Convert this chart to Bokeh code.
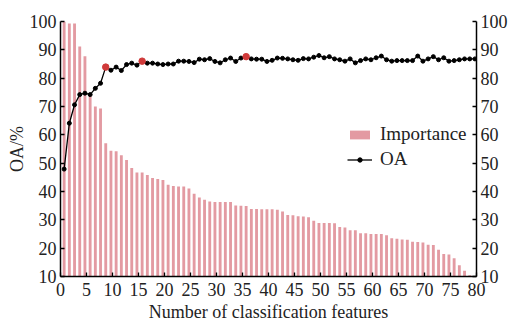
import numpy as np
from bokeh.plotting import figure
from bokeh.models import Range1d, LinearAxis, Legend, LegendItem, FixedTicker, Label, ColumnDataSource
from bokeh.embed import file_html
from bokeh.resources import INLINE

# ---- data ----
features = list(range(1, 81))
importance = [100.0, 99.3, 99.3, 91.2, 87.7, 74.0, 70.0, 69.3, 57.0, 54.4,
              54.2, 52.8, 51.1, 48.3, 46.7, 46.7, 45.8, 44.8, 44.4, 44.1,
              42.4, 41.9, 41.8, 41.8, 41.1, 39.2, 37.9, 37.1, 36.5, 36.3,
              36.3, 36.3, 36.3, 35.1, 35.0, 34.9, 33.8, 33.8, 33.7, 33.7,
              33.7, 33.6, 32.9, 31.7, 31.6, 31.3, 31.2, 30.9, 29.7, 28.9,
              28.9, 28.9, 28.8, 27.5, 27.3, 26.3, 26.3, 25.3, 25.3, 25.0,
              25.0, 25.0, 24.6, 23.5, 23.3, 23.1, 23.0, 22.3, 22.2, 22.0,
              21.2, 21.1, 19.4, 17.9, 17.8, 16.4, 14.0, 12.0, 10.4, 10.0]
oa = [47.9, 64.1, 70.6, 74.2, 74.7, 74.2, 76.4, 78.2, 83.9, 82.8,
      83.9, 82.7, 84.8, 85.3, 84.6, 86.0, 85.3, 85.3, 85.0, 84.8,
      85.0, 85.0, 86.0, 86.0, 85.9, 85.5, 86.7, 86.5, 86.9, 85.9,
      85.4, 86.5, 87.1, 85.9, 87.1, 87.6, 86.8, 86.7, 86.7, 85.9,
      86.3, 87.1, 87.0, 86.8, 86.5, 86.3, 86.9, 86.8, 87.4, 88.0,
      87.2, 87.6, 86.8, 86.5, 86.0, 86.8, 85.4, 86.2, 86.8, 86.5,
      87.2, 87.8, 86.5, 86.0, 86.2, 86.2, 86.2, 86.2, 87.8, 86.0,
      86.8, 87.6, 86.5, 87.2, 86.0, 86.2, 86.5, 86.8, 86.8, 86.8]
highlight = [9, 16, 36]
x_ticks = list(range(0, 81, 5))
y_ticks = list(range(10, 101, 10))

FONT = "'Liberation Serif', serif"
FS = "18px"

xpos = [f - 0.3 for f in features]
src = ColumnDataSource(dict(x=xpos, imp=importance, oa=oa))
hl_x = [f - 0.3 for f in highlight]
hl_y = [oa[f - 1] for f in highlight]

p = figure(width=528, height=325, x_range=Range1d(0, 80), y_range=Range1d(10, 100),
           output_backend="svg", toolbar_location=None,
           min_border_left=60, min_border_right=52, min_border_top=21, min_border_bottom=49)
p.extra_y_ranges = {"imp": Range1d(10, 100)}
p.grid.visible = False
p.outline_line_color = None
p.background_fill_color = "white"

bars = p.vbar(x="x", top="imp", bottom=10, width=0.55, source=src, y_range_name="imp",
              fill_color="#e39aa2", line_color=None)
line = p.line(x="x", y="oa", source=src, line_color="black", line_width=1.3)
pts = p.scatter(x="x", y="oa", source=src, size=4, color="black")
p.scatter(x=hl_x, y=hl_y, size=6.5, color="#d03a3a")

right = LinearAxis(y_range_name="imp")
p.add_layout(right, "right")

for ax in [p.xaxis[0], p.yaxis[0], right]:
    ax.axis_line_width = 1.5
    ax.axis_line_color = "black"
    ax.major_tick_in = 4
    ax.major_tick_out = 0
    ax.major_tick_line_width = 1.3
    ax.minor_tick_line_color = None
    ax.major_label_text_font = FONT
    ax.major_label_text_font_size = FS
    ax.major_label_text_color = "#222222"
    ax.axis_label_text_font = FONT
    ax.axis_label_text_font_size = FS
    ax.axis_label_text_font_style = "normal"
    ax.axis_label_text_color = "#222222"
    ax.major_label_standoff = 4

p.xaxis[0].ticker = FixedTicker(ticks=x_ticks)
p.yaxis[0].ticker = FixedTicker(ticks=y_ticks)
right.ticker = FixedTicker(ticks=y_ticks)
p.xaxis[0].axis_label = "Number of classification features"
p.xaxis[0].major_label_standoff = 6
p.xaxis[0].axis_label_standoff = 3
p.yaxis[0].axis_label = "OA/%"
p.yaxis[0].axis_label_standoff = 0

p.add_layout(Label(x=458, y=128, x_units="screen", y_units="screen", text="Importance/%",
                   angle=np.pi / 2, text_align="center", text_baseline="middle",
                   text_font=FONT, text_font_size=FS, text_color="#222222"))

legend = Legend(items=[LegendItem(label="Importance", renderers=[bars]),
                       LegendItem(label="OA", renderers=[line, pts])],
                location=(287, 106), background_fill_alpha=0, border_line_color=None,
                label_text_font=FONT, label_text_font_size="19px", label_text_color="#222222",
                glyph_width=25, glyph_height=11, spacing=3, padding=0, margin=0,
                label_standoff=8)
p.add_layout(legend)

open("out.html", "w").write(file_html(p, INLINE))
